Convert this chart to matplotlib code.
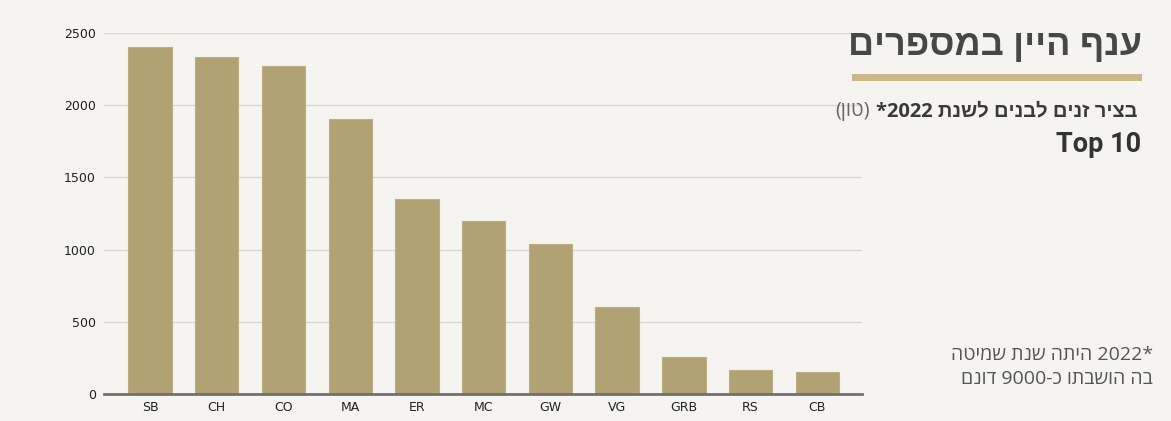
import matplotlib
matplotlib.use("Agg")
import matplotlib.pyplot as plt
from matplotlib.patches import Rectangle

categories = ["SB", "CH", "CO", "MA", "ER", "MC", "GW", "VG", "GRB", "RS", "CB"]
values = [2400, 2335, 2270, 1905, 1350, 1198, 1040, 605, 256, 168, 155]
yticks = [0, 500, 1000, 1500, 2000, 2500]

W, H = 1171, 421
BG = "#f5f4f0"
BAR = "#b1a274"
HEB = ["Open Sans", "Liberation Sans", "DejaVu Sans"]

def rtl(s):
    return s[::-1]

fig = plt.figure(figsize=(W / 100, H / 100), dpi=100, facecolor=BG)

def fx(px):
    return px / W

def fy(py):
    return 1 - py / H

ax = fig.add_axes([fx(104), fy(394), fx(862) - fx(104), fy(33) - fy(394)])
ax.set_facecolor(BG)
x = list(range(len(categories)))
ax.bar(x, values, width=0.65, color=BAR, edgecolor="#bcae82", linewidth=0.8, zorder=3)
ax.set_xlim(-0.69, 10.67)
ax.set_ylim(0, 2500)
ax.set_yticks(yticks)
ax.set_yticklabels([str(v) for v in yticks], fontsize=9, color="#222222", family="DejaVu Sans")
ax.set_xticks(x)
ax.set_xticklabels(categories, fontsize=9, color="#222222", family="DejaVu Sans")
ax.tick_params(axis="both", length=0, pad=5)
ax.tick_params(axis="y", pad=6)
for v in yticks[1:]:
    ax.axhline(v, color="#d9d7d1", linewidth=1.0, zorder=1)
for s in ["top", "right", "left"]:
    ax.spines[s].set_visible(False)
ax.spines["bottom"].set_color("#707070")
ax.spines["bottom"].set_linewidth(2)
ax.spines["bottom"].set_zorder(4)

# Title
fig.text(fx(1142), fy(46), rtl("ענף היין במספרים"), ha="right", va="center",
         fontsize=26, fontweight="bold", color="#474747", family=HEB)
fig.patches.append(Rectangle((fx(852), fy(81)), fx(1142) - fx(852), fy(74) - fy(81),
                             transform=fig.transFigure, facecolor="#c9b98a", edgecolor="none"))

# Subtitle
fig.text(fx(1138), fy(111), "*2022 " + rtl("בציר זנים לבנים לשנת"), ha="right", va="center",
         fontsize=14.5, fontweight="bold", color="#3a3a3a", family=HEB)
fig.text(fx(870), fy(111), "(" + rtl("טון") + ")", ha="right", va="center",
         fontsize=14.5, color="#666666", family=HEB)
fig.text(fx(1141), fy(144), "Top 10", ha="right", va="center",
         fontsize=19.5, fontweight="bold", color="#333333", family=["Roboto", "DejaVu Sans"])

# Footnote
fig.text(fx(1153), fy(355), rtl("היתה שנת שמיטה") + " 2022*", ha="right", va="center",
         fontsize=14, color="#555555", family=HEB)
fig.text(fx(1153), fy(379), rtl("דונם") + " 9000-" + "כ" + " " + rtl("בה הושבתו"), ha="right", va="center",
         fontsize=14, color="#555555", family=HEB)

fig.savefig("out.png", dpi=100, facecolor=BG)
